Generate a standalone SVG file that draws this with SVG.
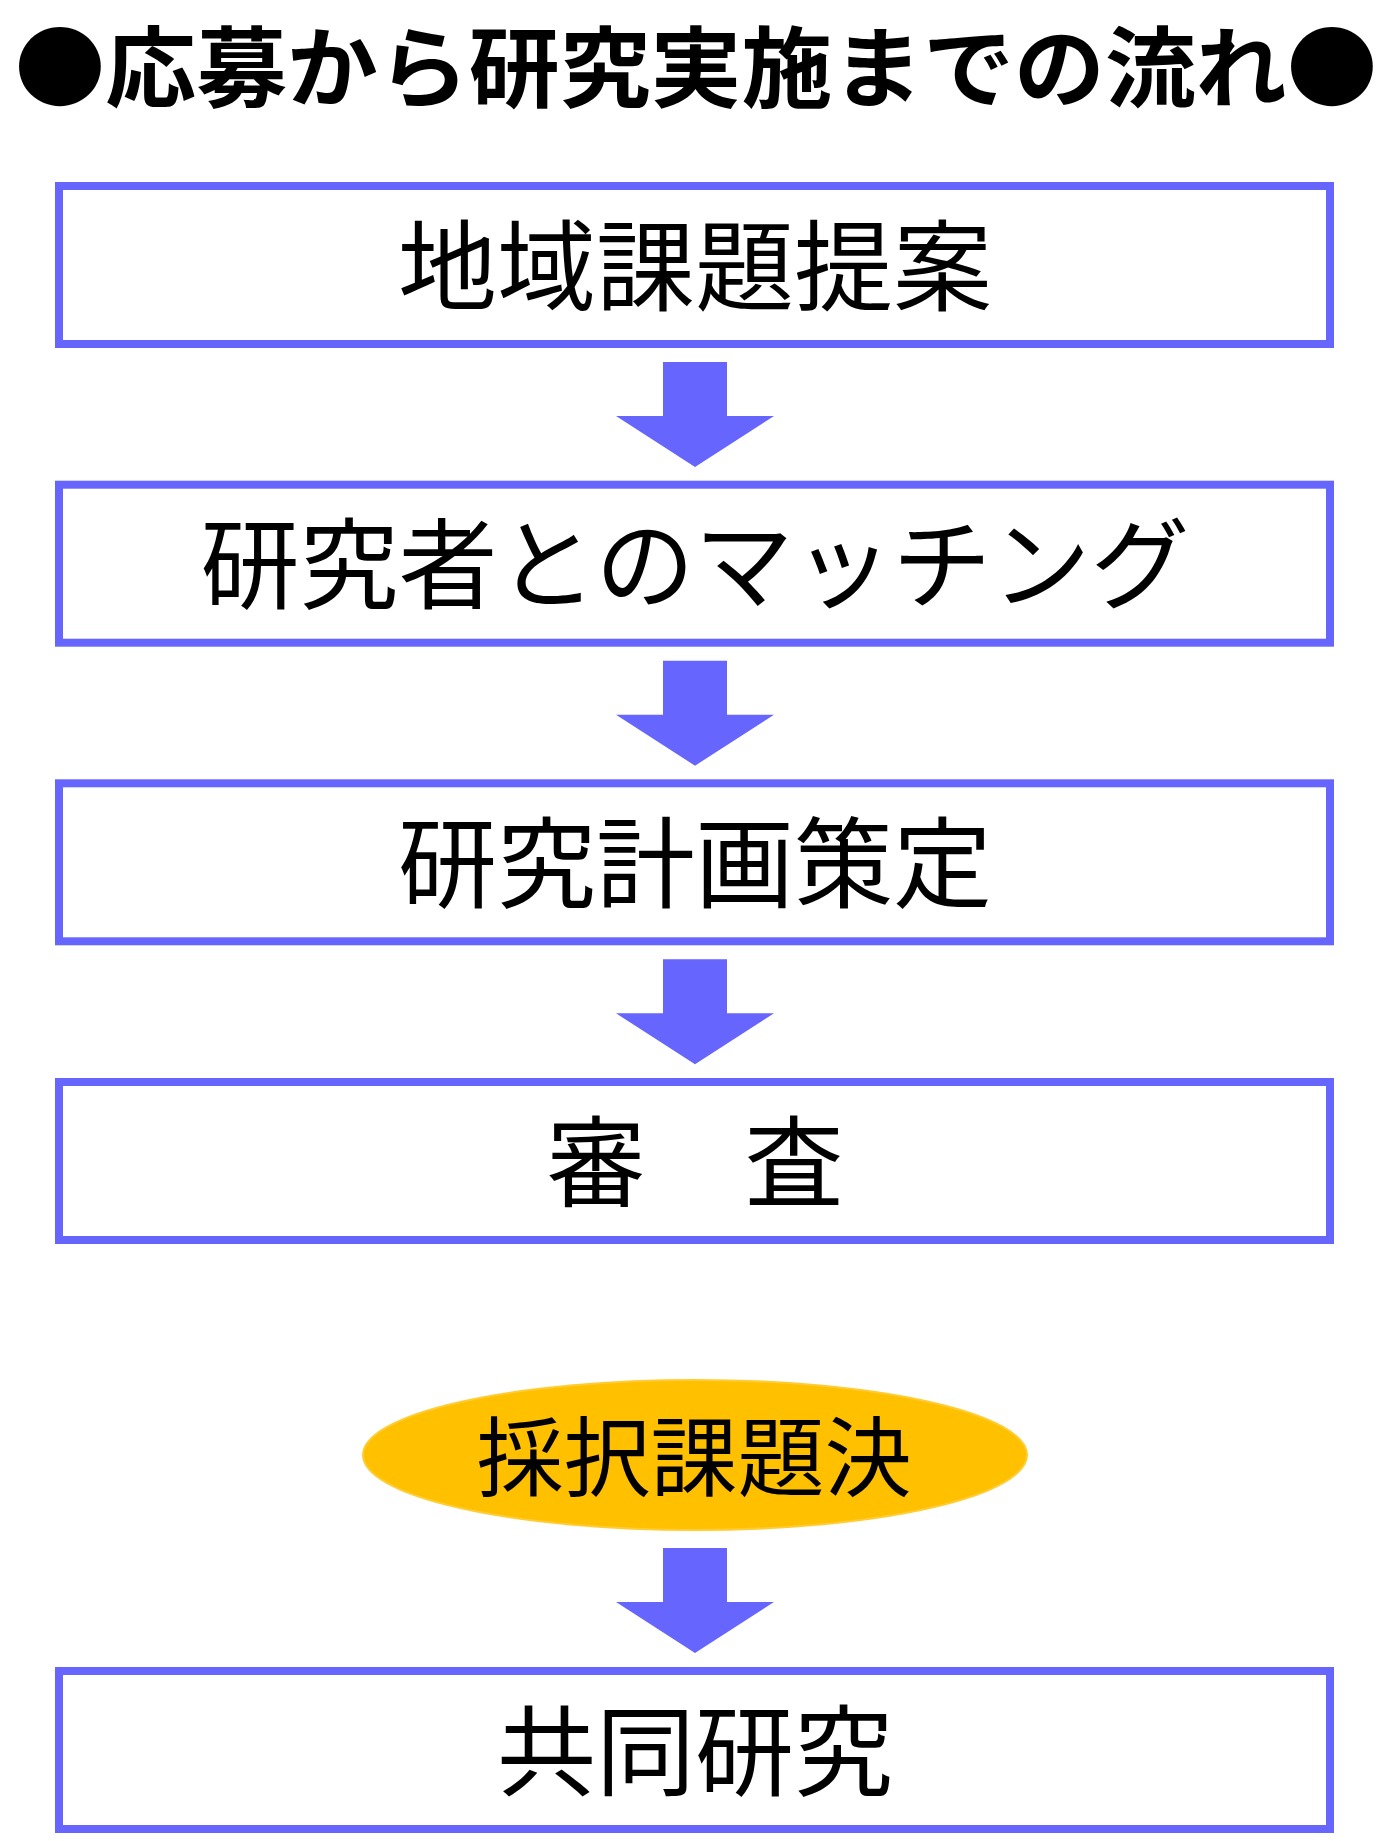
<svg xmlns="http://www.w3.org/2000/svg" width="1393" height="1841" viewBox="0 0 1393 1841">
  <style>
    .box { fill: #FFFFFF; stroke: #6666FF; stroke-width: 8; }
    .arrow { fill: #6666FF; }
    .label { font-family: "Noto Sans CJK JP", "Noto Sans CJK SC", sans-serif; font-size: 99px; fill: #000000; text-anchor: middle; }
    .title { font-family: "Noto Sans CJK JP", "Noto Sans CJK SC", serif; font-size: 88px; font-weight: 700; fill: #000000; text-anchor: middle; }
  </style>
  <rect x="0" y="0" width="1393" height="1841" fill="#FFFFFF"/>
  <g id="title">
    <text class="title" x="696" y="100" textLength="1363" lengthAdjust="spacingAndGlyphs">●応募から研究実施までの流れ●</text>
  </g>
  <g id="node-1">
    <rect class="box" x="59" y="186" width="1271" height="158"/>
    <text class="label" x="695" y="303">地域課題提案</text>
  </g>
  <g id="node-2">
    <rect class="box" x="59" y="484.7" width="1271" height="158"/>
    <text class="label" x="695" y="601.3">研究者とのマッチング</text>
  </g>
  <g id="node-3">
    <rect class="box" x="59" y="783.3" width="1271" height="158"/>
    <text class="label" x="695" y="900">研究計画策定</text>
  </g>
  <g id="node-4">
    <rect class="box" x="59" y="1082" width="1271" height="158"/>
    <text class="label" x="695" y="1198.6">審　査</text>
  </g>
  <g id="node-5">
    <ellipse cx="695" cy="1455" rx="332" ry="75" fill="#FFC000" stroke="#FFCC33" stroke-width="2"/>
    <text class="label" x="694" y="1490" style="font-size:87px">採択課題決</text>
  </g>
  <g id="node-6">
    <rect class="box" x="59" y="1671" width="1271" height="158"/>
    <text class="label" x="695" y="1787.6">共同研究</text>
  </g>
  <g id="connectors">
    <polygon class="arrow" points="663,362 727,362 727,416 774,416 695,467 616,416 663,416"/>
    <polygon class="arrow" points="663,660.7 727,660.7 727,714.7 774,714.7 695,765.7 616,714.7 663,714.7"/>
    <polygon class="arrow" points="663,959.3 727,959.3 727,1013.3 774,1013.3 695,1064.3 616,1013.3 663,1013.3"/>
    <polygon class="arrow" points="663,1548 727,1548 727,1602 774,1602 695,1653 616,1602 663,1602"/>
  </g>
</svg>
